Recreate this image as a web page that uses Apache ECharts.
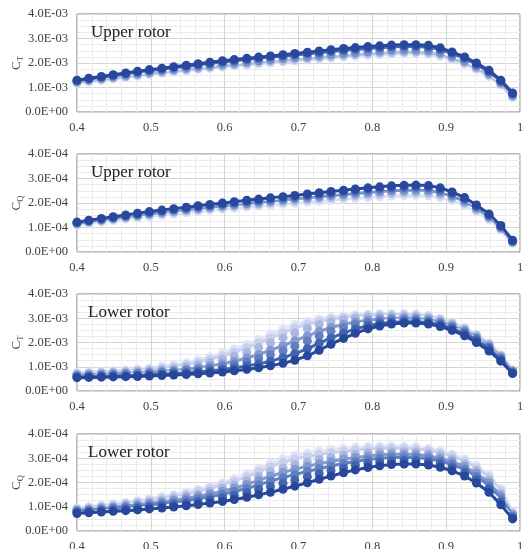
<!DOCTYPE html>
<html>
<head>
<meta charset="utf-8">
<script src="https://cdn.jsdelivr.net/npm/echarts@6/dist/echarts.min.js"></script>
<style>html,body{margin:0;padding:0;background:#fff;}#c{width:524px;height:549px;}</style>
</head>
<body>
<div id="c"></div>
<script>
// radial stations r/R
const rR = [0.400,0.416,0.433,0.449,0.466,0.482,0.498,0.515,0.531,0.548,0.564,0.580,0.597,0.613,0.630,0.646,0.662,0.679,0.695,0.712,0.728,0.744,0.761,0.777,0.794,0.810,0.826,0.843,0.859,0.876,0.892,0.908,0.925,0.941,0.958,0.974,0.990];
const xTicks = [0.4,0.5,0.6,0.7,0.8,0.9,1];
const panelTitles = ['Upper rotor','Upper rotor','Lower rotor','Lower rotor'];
const yNames = ['T','Q','T','Q'];

// Upper rotor CT (x1e-3), light -> dark
const ctUpper0 = [1.17,1.23,1.29,1.35,1.41,1.47,1.53,1.58,1.63,1.68,1.73,1.78,1.83,1.88,1.92,1.96,2.00,2.04,2.08,2.12,2.16,2.20,2.24,2.28,2.31,2.34,2.36,2.38,2.38,2.35,2.27,2.13,1.95,1.73,1.45,1.10,0.58];
const ctUpper1 = [1.20,1.27,1.33,1.39,1.45,1.51,1.57,1.62,1.68,1.73,1.78,1.83,1.88,1.93,1.97,2.02,2.06,2.10,2.14,2.18,2.22,2.26,2.30,2.34,2.38,2.41,2.43,2.45,2.45,2.42,2.34,2.20,2.01,1.79,1.51,1.14,0.63];
const ctUpper2 = [1.24,1.31,1.37,1.44,1.50,1.56,1.62,1.68,1.73,1.79,1.84,1.89,1.95,2.00,2.04,2.09,2.13,2.18,2.22,2.26,2.30,2.34,2.38,2.42,2.46,2.49,2.52,2.53,2.53,2.50,2.42,2.27,2.08,1.85,1.57,1.19,0.68];
const ctUpper3 = [1.28,1.35,1.42,1.49,1.56,1.63,1.69,1.75,1.81,1.87,1.93,1.98,2.04,2.09,2.14,2.19,2.24,2.28,2.33,2.38,2.42,2.47,2.51,2.55,2.59,2.62,2.65,2.67,2.67,2.64,2.55,2.39,2.19,1.94,1.65,1.26,0.74];
const ctUpper4 = [1.30,1.38,1.45,1.52,1.59,1.66,1.73,1.79,1.85,1.91,1.97,2.03,2.09,2.14,2.19,2.24,2.29,2.34,2.39,2.44,2.49,2.54,2.59,2.63,2.67,2.70,2.73,2.75,2.75,2.72,2.62,2.45,2.25,2.00,1.70,1.30,0.78];

// Upper rotor CQ (x1e-4)
const cqUpper0 = [1.10,1.16,1.22,1.28,1.34,1.40,1.45,1.50,1.55,1.60,1.65,1.70,1.74,1.79,1.83,1.87,1.91,1.95,1.99,2.03,2.07,2.11,2.15,2.18,2.22,2.25,2.28,2.30,2.31,2.29,2.22,2.09,1.90,1.64,1.31,0.90,0.35];
const cqUpper1 = [1.14,1.21,1.27,1.33,1.39,1.45,1.51,1.56,1.62,1.67,1.72,1.77,1.82,1.86,1.91,1.95,2.00,2.04,2.08,2.13,2.17,2.21,2.25,2.29,2.33,2.36,2.39,2.41,2.42,2.40,2.33,2.19,1.99,1.72,1.38,0.95,0.39];
const cqUpper2 = [1.17,1.24,1.31,1.37,1.44,1.50,1.56,1.62,1.67,1.73,1.78,1.83,1.88,1.93,1.98,2.03,2.07,2.12,2.17,2.21,2.26,2.30,2.35,2.39,2.43,2.47,2.50,2.52,2.53,2.51,2.43,2.28,2.07,1.79,1.44,0.99,0.42];
const cqUpper3 = [1.20,1.27,1.34,1.41,1.48,1.54,1.61,1.67,1.73,1.79,1.84,1.90,1.95,2.00,2.05,2.10,2.15,2.20,2.25,2.30,2.35,2.40,2.45,2.49,2.54,2.58,2.61,2.63,2.64,2.62,2.53,2.37,2.15,1.86,1.50,1.04,0.45];
const cqUpper4 = [1.22,1.30,1.37,1.44,1.51,1.58,1.65,1.71,1.77,1.83,1.89,1.94,2.00,2.05,2.11,2.16,2.21,2.26,2.31,2.37,2.42,2.47,2.52,2.57,2.62,2.66,2.70,2.72,2.73,2.71,2.62,2.45,2.22,1.92,1.55,1.08,0.48];

// Lower rotor CT (x1e-3)
const ctLower0 = [0.75,0.78,0.81,0.84,0.87,0.91,0.95,1.01,1.08,1.17,1.28,1.41,1.56,1.73,1.92,2.12,2.34,2.55,2.74,2.88,2.98,3.05,3.10,3.14,3.17,3.19,3.20,3.20,3.18,3.12,3.00,2.84,2.62,2.34,1.98,1.50,0.88];
const ctLower1 = [0.72,0.75,0.78,0.80,0.83,0.86,0.90,0.95,1.01,1.09,1.19,1.31,1.45,1.61,1.79,1.98,2.19,2.40,2.60,2.76,2.88,2.97,3.03,3.08,3.12,3.14,3.15,3.15,3.13,3.07,2.96,2.80,2.59,2.31,1.95,1.47,0.86];
const ctLower2 = [0.69,0.71,0.73,0.76,0.78,0.81,0.84,0.88,0.93,1.00,1.08,1.18,1.30,1.44,1.60,1.78,1.98,2.19,2.40,2.58,2.73,2.85,2.94,3.00,3.05,3.08,3.09,3.09,3.07,3.02,2.91,2.75,2.54,2.27,1.91,1.44,0.84];
const ctLower3 = [0.65,0.67,0.69,0.71,0.73,0.75,0.78,0.81,0.85,0.90,0.96,1.03,1.12,1.23,1.36,1.51,1.68,1.87,2.07,2.27,2.46,2.62,2.75,2.85,2.92,2.97,3.00,3.01,3.00,2.95,2.85,2.70,2.49,2.22,1.87,1.40,0.81];
const ctLower4 = [0.62,0.64,0.65,0.67,0.69,0.71,0.73,0.76,0.79,0.83,0.88,0.94,1.01,1.10,1.21,1.34,1.49,1.66,1.85,2.06,2.27,2.46,2.62,2.74,2.83,2.89,2.93,2.94,2.93,2.88,2.79,2.64,2.43,2.16,1.81,1.35,0.78];
const ctLower5 = [0.58,0.59,0.61,0.62,0.63,0.65,0.67,0.69,0.72,0.75,0.79,0.83,0.89,0.95,1.03,1.12,1.23,1.37,1.54,1.74,1.97,2.19,2.39,2.56,2.69,2.78,2.84,2.86,2.86,2.82,2.73,2.58,2.37,2.10,1.75,1.30,0.75];
const ctLower6 = [0.55,0.56,0.57,0.58,0.59,0.60,0.62,0.64,0.66,0.68,0.71,0.74,0.78,0.83,0.89,0.96,1.04,1.14,1.27,1.45,1.68,1.93,2.17,2.38,2.56,2.68,2.76,2.80,2.80,2.76,2.66,2.50,2.28,2.00,1.65,1.23,0.72];

// Lower rotor CQ (x1e-4)
const cqLower0 = [0.95,1.00,1.06,1.12,1.18,1.25,1.33,1.41,1.50,1.60,1.71,1.84,1.99,2.16,2.36,2.58,2.80,2.98,3.12,3.22,3.30,3.36,3.41,3.45,3.48,3.50,3.51,3.50,3.47,3.41,3.31,3.17,2.98,2.70,2.32,1.75,0.80];
const cqLower1 = [0.92,0.97,1.03,1.08,1.14,1.20,1.28,1.35,1.44,1.53,1.64,1.76,1.90,2.06,2.24,2.45,2.66,2.83,2.97,3.07,3.16,3.23,3.29,3.34,3.38,3.40,3.42,3.41,3.38,3.33,3.23,3.09,2.89,2.61,2.23,1.67,0.76];
const cqLower2 = [0.88,0.92,0.98,1.03,1.08,1.14,1.20,1.27,1.35,1.43,1.52,1.63,1.76,1.90,2.07,2.25,2.44,2.60,2.74,2.85,2.95,3.03,3.11,3.17,3.22,3.26,3.28,3.28,3.26,3.20,3.11,2.96,2.77,2.48,2.10,1.55,0.71];
const cqLower3 = [0.85,0.89,0.93,0.98,1.03,1.08,1.14,1.20,1.27,1.35,1.43,1.53,1.64,1.77,1.92,2.09,2.26,2.41,2.55,2.67,2.77,2.87,2.96,3.03,3.09,3.14,3.16,3.17,3.15,3.10,3.00,2.86,2.66,2.38,2.00,1.45,0.67];
const cqLower4 = [0.81,0.85,0.89,0.93,0.97,1.01,1.07,1.12,1.18,1.25,1.33,1.41,1.51,1.63,1.76,1.90,2.06,2.20,2.33,2.46,2.57,2.68,2.78,2.87,2.95,3.00,3.03,3.04,3.03,2.98,2.89,2.74,2.54,2.25,1.87,1.33,0.61];
const cqLower5 = [0.77,0.80,0.84,0.87,0.91,0.95,0.99,1.04,1.09,1.15,1.21,1.29,1.37,1.47,1.58,1.71,1.84,1.97,2.10,2.24,2.36,2.49,2.60,2.71,2.79,2.85,2.89,2.91,2.90,2.86,2.77,2.62,2.41,2.12,1.74,1.21,0.56];
const cqLower6 = [0.72,0.75,0.78,0.81,0.84,0.87,0.91,0.95,0.99,1.04,1.09,1.15,1.22,1.30,1.39,1.49,1.60,1.72,1.85,1.99,2.13,2.27,2.40,2.52,2.62,2.69,2.74,2.76,2.76,2.72,2.63,2.48,2.27,1.98,1.60,1.08,0.50];

const panels = [
  {scale:1e-3, sets:[ctUpper0,ctUpper1,ctUpper2,ctUpper3,ctUpper4], dashed:[2]},
  {scale:1e-4, sets:[cqUpper0,cqUpper1,cqUpper2,cqUpper3,cqUpper4], dashed:[1,3]},
  {scale:1e-3, sets:[ctLower0,ctLower1,ctLower2,ctLower3,ctLower4,ctLower5,ctLower6], dashed:[2,4]},
  {scale:1e-4, sets:[cqLower0,cqLower1,cqLower2,cqLower3,cqLower4,cqLower5,cqLower6], dashed:[2,5]}
];
const ramp5 = ['#dde2f3','#aebce3','#7590cd','#4869b4','#27489c'];
const ramp7 = ['#e1e5f5','#c8d0ed','#a9b7e1','#8399d0','#6080c1','#4164ae','#26479b'];

const tops = [14,154,294,434];
const heights = [98,98,97,97];
const serif = 'Liberation Serif';

function fmtY(v){
  if (v === 0) return '0.0E+00';
  const e = Math.floor(Math.log10(Math.abs(v)) + 1e-9);
  const m = v / Math.pow(10, e);
  const sign = e < 0 ? '-' : '+';
  return m.toFixed(1) + 'E' + sign + String(Math.abs(e)).padStart(2, '0');
}

const grid = [], xAxis = [], yAxis = [], series = [], title = [];
panels.forEach((p, k) => {
  grid.push({left:77, width:443, top:tops[k], height:heights[k], show:true, borderColor:'#7f7f7f', borderWidth:1,
    backgroundColor:'transparent', containLabel:false, outerBoundsMode:'none'});
  xAxis.push({
    gridIndex:k, type:'value', min:0.4, max:1, interval:0.1,
    axisLine:{show:false}, axisTick:{show:false},
    axisLabel:{fontFamily:serif, fontSize:12.5, color:'#404040', margin:9,
      formatter:(v)=> (xTicks.indexOf(Math.round(v*10)/10) >= 0 ? String(Math.round(v*10)/10) : '')},
    splitLine:{show:true, lineStyle:{color:'#d4d4d4', width:1}},
    minorTick:{show:false, splitNumber:5},
    minorSplitLine:{show:true, lineStyle:{color:'#ebebeb', width:1}}
  });
  yAxis.push({
    gridIndex:k, type:'value', min:0, max:4*p.scale, interval:1*p.scale,
    axisLine:{show:false}, axisTick:{show:false},
    axisLabel:{fontFamily:serif, fontSize:12.5, color:'#404040', margin:9, formatter:fmtY},
    splitLine:{show:true, lineStyle:{color:'#d4d4d4', width:1}},
    minorTick:{show:false, splitNumber:4},
    minorSplitLine:{show:true, lineStyle:{color:'#ebebeb', width:1}},
    name:'{m|C}{s|' + yNames[k] + '}', nameLocation:'middle', nameGap:54, nameRotate:90,
    nameMoveOverlap:false,
    nameTextStyle:{rich:{
      m:{fontFamily:serif, fontSize:13, color:'#404040', lineHeight:14, verticalAlign:'bottom'},
      s:{fontFamily:serif, fontSize:8.5, color:'#404040', lineHeight:14, verticalAlign:'bottom', padding:[0,0,-2,0]}
    }}
  });
  title.push({text:panelTitles[k], left:k>=2?88:91, top:tops[k]+10, padding:0,
    textStyle:{fontFamily:serif, fontSize:17, fontWeight:'normal', color:'#222'}});
  const ramp = p.sets.length === 5 ? ramp5 : ramp7;
  p.sets.forEach((arr, j) => {
    const isDash = p.dashed.indexOf(j) >= 0;
    series.push({
      type:'line', xAxisIndex:k, yAxisIndex:k,
      data: rR.map((x, i) => [x, arr[i] * p.scale]),
      symbol:'circle', symbolSize:9, showSymbol:true,
      itemStyle:{color:ramp[j], borderWidth:0},
      lineStyle: isDash ? {color:'#ffffff', width:2, type:[5,4]} : {color:ramp[j], width:3},
      z: 2 + j, silent:true
    });
  });
});

const chart = echarts.init(document.getElementById('c'), null, {renderer:'canvas'});
chart.setOption({animation:false, backgroundColor:'#fff', title, grid, xAxis, yAxis, series});
</script>
</body>
</html>
